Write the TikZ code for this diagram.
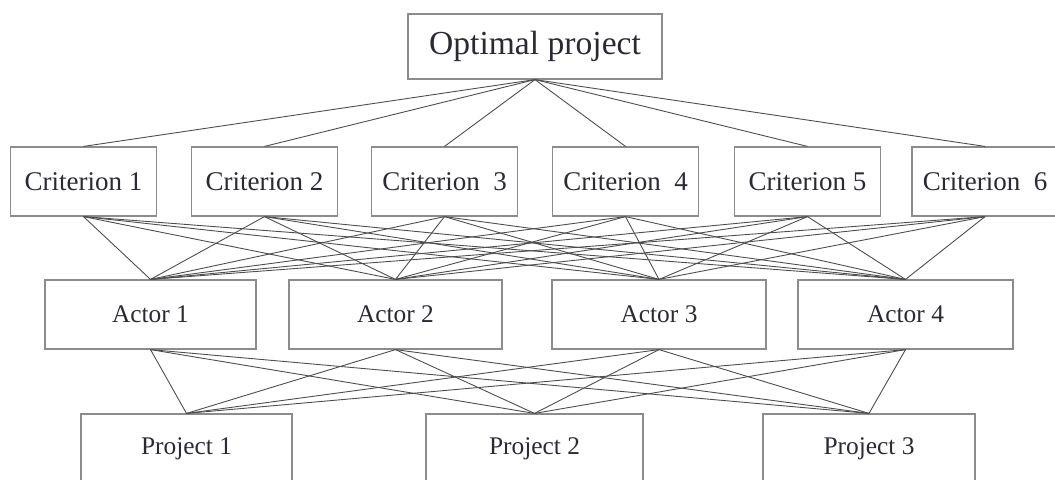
\documentclass[tikz,border=0pt]{standalone}
\usepackage{fontspec}
\setmainfont{Liberation Serif}
\definecolor{boxgray}{HTML}{8C8C8C}
\definecolor{linkgray}{HTML}{4E4E4E}
\definecolor{inkgray}{HTML}{2A2A33}
\begin{document}
\begin{tikzpicture}[
    x=.5pt,y=-.5pt,
    box/.style={draw=boxgray,line width=.6pt,inner sep=0pt,
        minimum height=34.5pt,text=inkgray},
    critbox/.style={box,minimum width=73pt,font=\fontsize{13.5}{15}\selectfont},
    lowbox/.style={box,font=\fontsize{12.7}{14}\selectfont},
    link/.style={linkgray,line width=.45pt}]
    \useasboundingbox (0,0) rectangle (1055,479);
    \clip (0,0) rectangle (1055,479);

    % goal
    \node[box,minimum width=127pt,minimum height=32.5pt,
        font=\fontsize{16.8}{18}\selectfont] (opt) at (535,46.5) {Optimal project};

    % criteria
    \foreach \i/\xx/\txt in {1/83.5/Criterion 1,2/264.5/Criterion 2,
        3/444.5/Criterion\ \ 3,4/625.5/Criterion\ \ 4,
        5/807.5/Criterion 5,6/985/Criterion\ \ 6}
        \node[critbox] (c\i) at (\xx,181.5) {\txt};

    % actors
    \foreach \i/\xx/\ww in {1/150.5/105.5,2/395.5/106.5,3/659/107,4/905.5/107.5}
        \node[lowbox,minimum width=\ww pt] (a\i) at (\xx,314.5) {Actor \i};

    % projects
    \foreach \i/\xx/\ww in {1/186.5/105.5,2/534.5/108.5,3/869/106}
        \node[lowbox,minimum width=\ww pt] (p\i) at (\xx,448.5) {Project \i};

    % links
    \foreach \i in {1,...,6} {
        \draw[link] (opt.south) -- (c\i.north);
        \foreach \j in {1,...,4}
            \draw[link] (c\i.south) -- (a\j.north);
    }
    \foreach \j in {1,...,4} {
        \foreach \k in {1,2,3}
            \draw[link] (a\j.south) -- (p\k.north);
    }
\end{tikzpicture}
\end{document}
